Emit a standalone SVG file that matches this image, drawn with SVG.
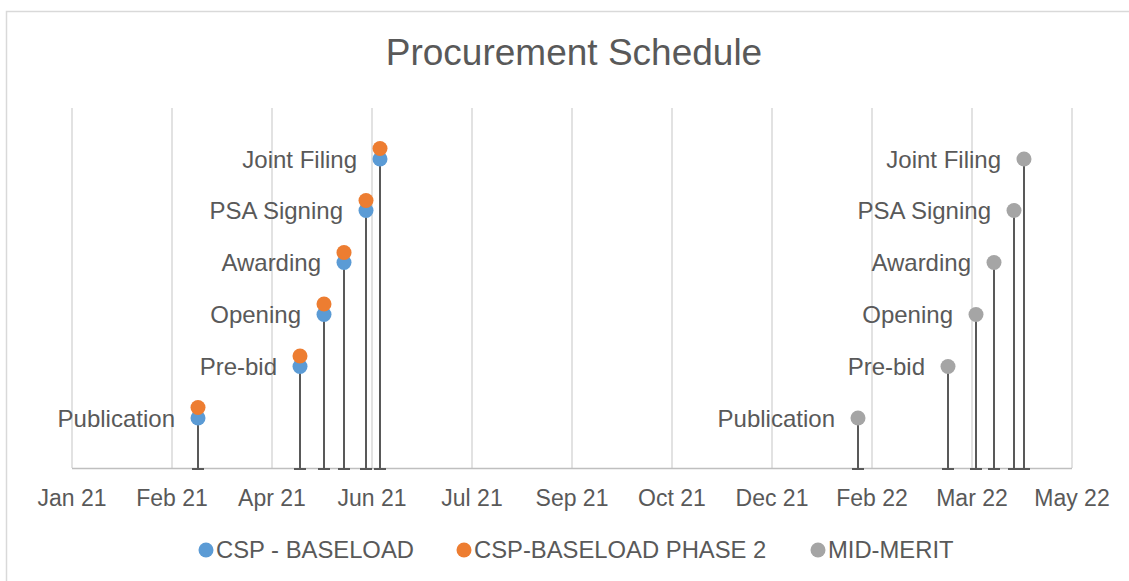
<svg xmlns="http://www.w3.org/2000/svg" width="1129" height="581" viewBox="0 0 1129 581">
<style>
.t{font-family:"Liberation Sans",Arial,sans-serif;fill:#595959}
.title{font-size:37px}
.lbl{font-size:24px;text-anchor:end}
.ax{font-size:23px;text-anchor:middle}
.lg{font-size:23.8px}
.grid{stroke:#d9d9d9;stroke-width:1.5}
.stem{stroke:#595959;stroke-width:2;fill:none}
.b{fill:#5b9bd5}
.o{fill:#ed7d31}
.g{fill:#a5a5a5}
</style>
<rect x="0" y="0" width="1129" height="581" fill="#ffffff"/>
<rect x="6.5" y="11.5" width="1200" height="700" fill="none" stroke="#d9d9d9" stroke-width="1.5"/>
<text class="t title" x="574" y="65" text-anchor="middle">Procurement Schedule</text>
<g id="gridlines">
<line class="grid" x1="72" y1="108" x2="72" y2="468"/>
<line class="grid" x1="172" y1="108" x2="172" y2="468"/>
<line class="grid" x1="272" y1="108" x2="272" y2="468"/>
<line class="grid" x1="372" y1="108" x2="372" y2="468"/>
<line class="grid" x1="472" y1="108" x2="472" y2="468"/>
<line class="grid" x1="572" y1="108" x2="572" y2="468"/>
<line class="grid" x1="672" y1="108" x2="672" y2="468"/>
<line class="grid" x1="772" y1="108" x2="772" y2="468"/>
<line class="grid" x1="872" y1="108" x2="872" y2="468"/>
<line class="grid" x1="972" y1="108" x2="972" y2="468"/>
<line class="grid" x1="1072" y1="108" x2="1072" y2="468"/>
</g>
<line id="axis" x1="72" y1="468.5" x2="1072" y2="468.5" stroke="#bfbfbf" stroke-width="1.5"/>
<g id="axis-labels">
<text class="t ax" x="72" y="506">Jan 21</text>
<text class="t ax" x="172" y="506">Feb 21</text>
<text class="t ax" x="272" y="506">Apr 21</text>
<text class="t ax" x="372" y="506">Jun 21</text>
<text class="t ax" x="472" y="506">Jul 21</text>
<text class="t ax" x="572" y="506">Sep 21</text>
<text class="t ax" x="672" y="506">Oct 21</text>
<text class="t ax" x="772" y="506">Dec 21</text>
<text class="t ax" x="872" y="506">Feb 22</text>
<text class="t ax" x="972" y="506">Mar 22</text>
<text class="t ax" x="1072" y="506">May 22</text>
</g>
<g id="connectors">
<path class="stem" d="M198,419V469M192,469H204"/>
<path class="stem" d="M300,367V469M294,469H306"/>
<path class="stem" d="M324,314V469M318,469H330"/>
<path class="stem" d="M344,262V469M338,469H350"/>
<path class="stem" d="M366,211V469M360,469H372"/>
<path class="stem" d="M380,159V469M374,469H386"/>
<path class="stem" d="M858,418V469M852,469H864"/>
<path class="stem" d="M948,367V469M942,469H954"/>
<path class="stem" d="M976,314V469M970,469H982"/>
<path class="stem" d="M994,263V469M988,469H1000"/>
<path class="stem" d="M1014,211V469M1008,469H1020"/>
<path class="stem" d="M1024,159V469M1018,469H1030"/>
</g>
<g id="csp-publication"><circle class="b" cx="198" cy="418" r="7.5"/><circle class="o" cx="198" cy="407.5" r="7.5"/><text class="t lbl" x="175" y="427">Publication</text></g>
<g id="csp-prebid"><circle class="b" cx="300" cy="366.5" r="7.5"/><circle class="o" cx="300" cy="356" r="7.5"/><text class="t lbl" x="277" y="375">Pre-bid</text></g>
<g id="csp-opening"><circle class="b" cx="324" cy="314.5" r="7.5"/><circle class="o" cx="324" cy="304" r="7.5"/><text class="t lbl" x="301" y="323">Opening</text></g>
<g id="csp-awarding"><circle class="b" cx="344" cy="262.5" r="7.5"/><circle class="o" cx="344" cy="252.5" r="7.5"/><text class="t lbl" x="321" y="271">Awarding</text></g>
<g id="csp-psa"><circle class="b" cx="366" cy="210.5" r="7.5"/><circle class="o" cx="366" cy="200.5" r="7.5"/><text class="t lbl" x="343" y="219">PSA Signing</text></g>
<g id="csp-joint"><circle class="b" cx="380" cy="159" r="7.5"/><circle class="o" cx="380" cy="148.5" r="7.5"/><text class="t lbl" x="357" y="167.5">Joint Filing</text></g>
<g id="mm-publication"><circle class="g" cx="858" cy="418" r="7.5"/><text class="t lbl" x="835" y="427">Publication</text></g>
<g id="mm-prebid"><circle class="g" cx="948" cy="366.5" r="7.5"/><text class="t lbl" x="925" y="375">Pre-bid</text></g>
<g id="mm-opening"><circle class="g" cx="976" cy="314.5" r="7.5"/><text class="t lbl" x="953" y="323">Opening</text></g>
<g id="mm-awarding"><circle class="g" cx="994" cy="262.5" r="7.5"/><text class="t lbl" x="971" y="271">Awarding</text></g>
<g id="mm-psa"><circle class="g" cx="1014" cy="210.5" r="7.5"/><text class="t lbl" x="991" y="219">PSA Signing</text></g>
<g id="mm-joint"><circle class="g" cx="1024" cy="159" r="7.5"/><text class="t lbl" x="1001" y="167.5">Joint Filing</text></g>
<g id="legend">
<circle class="b" cx="206" cy="550" r="7.5"/><text class="t lg" x="216" y="558">CSP - BASELOAD</text>
<circle class="o" cx="464" cy="550" r="7.5"/><text class="t lg" x="474" y="558">CSP-BASELOAD PHASE 2</text>
<circle class="g" cx="818" cy="550" r="7.5"/><text class="t lg" x="828" y="558">MID-MERIT</text>
</g>
</svg>
